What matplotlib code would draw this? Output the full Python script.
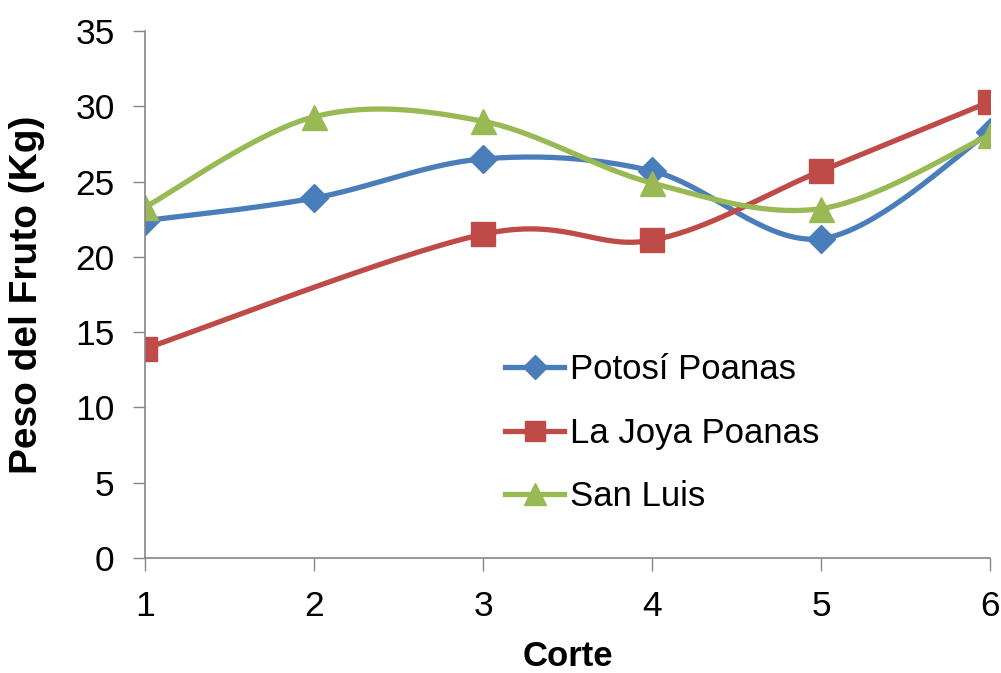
import numpy as np
import matplotlib.pyplot as plt

plt.rcParams['font.family'] = ['Liberation Sans', 'DejaVu Sans']

corte = [1, 2, 3, 4, 5, 6]
potosi = [22.4, 23.9, 26.5, 25.7, 21.2, 28.3]
la_joya = [13.9, np.nan, 21.5, 21.1, 25.7, 30.3]   # no value for corte 2
san_luis = [23.3, 29.3, 29.0, 24.9, 23.2, 28.1]

labels = ["Potosí Poanas", "La Joya Poanas", "San Luis"]
colors = ["#4A7EBB", "#BE4B48", "#98B954"]
markers = ["D", "s", "^"]


def smooth(x, y, n=40):
    # Excel style smoothed line: cubic bezier, catmull-rom like control points
    x = np.asarray(x, float)
    y = np.asarray(y, float)
    ok = ~np.isnan(y)
    x, y = x[ok], y[ok]
    pts = np.column_stack([x, y])
    out = []
    t = np.linspace(0, 1, n)[:, None]
    for i in range(len(pts) - 1):
        p0 = pts[max(i - 1, 0)]
        p1 = pts[i]
        p2 = pts[i + 1]
        p3 = pts[min(i + 2, len(pts) - 1)]
        c1 = p1 + (p2 - p0) / 6
        c2 = p2 - (p3 - p1) / 6
        seg = (1 - t)**3 * p1 + 3 * (1 - t)**2 * t * c1 + 3 * (1 - t) * t**2 * c2 + t**3 * p2
        out.append(seg)
    out = np.vstack(out)
    return out[:, 0], out[:, 1]


fig = plt.figure(figsize=(10.01, 6.73), dpi=100)
ax = fig.add_axes([0.145, 0.171, 0.844, 0.783])

for ys, lab, col, mk, ms in zip([potosi, la_joya, san_luis], labels, colors, markers, [14, 17, 18]):
    sx, sy = smooth(corte, ys)
    ax.plot(sx, sy, color=col, linewidth=3.8, solid_capstyle='round')
    ax.plot(corte, ys, linestyle='none', marker=mk, markersize=ms, color=col)
    ax.plot([], [], color=col, linewidth=3.8, marker=mk, markersize=ms * 0.85, label=lab)

ax.set_xlim(1, 6)
ax.set_ylim(0, 35)
ax.set_xticks(corte)
ax.set_yticks(np.arange(0, 36, 5))
ax.tick_params(labelsize=25.5, length=9, width=1, color='#868686', direction='out')
ax.tick_params(axis='y', pad=13)
ax.tick_params(axis='x', pad=14)
for side in ['top', 'right']:
    ax.spines[side].set_visible(False)
for side in ['left', 'bottom']:
    ax.spines[side].set_color('#868686')
    ax.spines[side].set_linewidth(1.2)

ax.set_xlabel("Corte", fontsize=25, fontweight='bold', labelpad=12)
ax.set_ylabel("Peso del Fruto (Kg)", fontsize=28, fontweight='bold', labelpad=22)

ax.legend(loc='upper left', bbox_to_anchor=(0.41, 0.415), frameon=False, fontsize=25,
          handlelength=1.7, handletextpad=0.15, labelspacing=0.88, borderaxespad=0)

fig.savefig("out.png", dpi=100)
